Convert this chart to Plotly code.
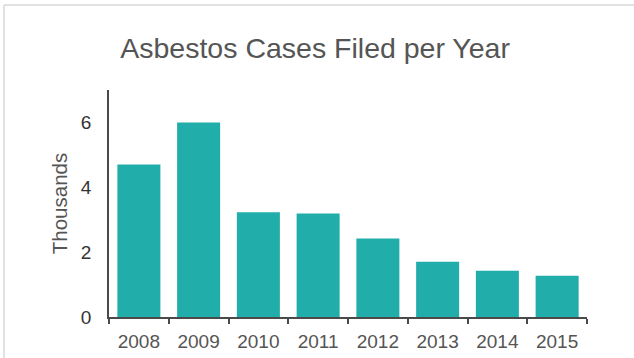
import plotly.graph_objects as go

# Asbestos cases filed each year (thousands)
years = ["2008", "2009", "2010", "2011", "2012", "2013", "2014", "2015"]
cases_thousands = [4.70, 6.00, 3.23, 3.19, 2.42, 1.70, 1.43, 1.27]
y_ticks = [0, 2, 4, 6]

bar_color = "#21AEAB"
axis_color = "#4a4a4a"
text_color = "#555555"
font_family = "Liberation Sans, Arial, Helvetica, sans-serif"

fig = go.Figure(
    go.Bar(
        x=years,
        y=cases_thousands,
        marker=dict(color=bar_color, line=dict(width=0)),
        hoverinfo="x+y",
    )
)

fig.update_layout(
    width=634,
    height=358,
    margin=dict(l=109, r=47, t=90, b=41),
    paper_bgcolor="white",
    plot_bgcolor="white",
    bargap=0.28,
    showlegend=False,
    title=dict(
        text="Asbestos Cases Filed per Year",
        x=0.497,
        xref="container",
        xanchor="center",
        y=1 - 48 / 358,
        yref="container",
        yanchor="middle",
        font=dict(family=font_family, size=28.5, color=text_color),
    ),
    font=dict(family=font_family, color=text_color),
)

fig.update_xaxes(
    type="category",
    automargin=False,
    tickson="boundaries",
    ticks="outside",
    ticklen=5,
    tickwidth=1.5,
    tickcolor=axis_color,
    showline=True,
    linecolor=axis_color,
    linewidth=1.5,
    showgrid=False,
    zeroline=False,
    ticklabelstandoff=6,
    tickfont=dict(family=font_family, size=19, color=text_color),
    range=[-0.5, len(years) - 0.5],
)

fig.update_yaxes(
    automargin=False,
    range=[0, 7],
    tickvals=y_ticks,
    ticktext=[str(v) for v in y_ticks],
    ticks="",
    showline=True,
    linecolor=axis_color,
    linewidth=1.5,
    showgrid=False,
    zeroline=False,
    ticklabelstandoff=12,
    tickfont=dict(family=font_family, size=19, color="#333333"),
    title=dict(
        text="Thousands",
        standoff=8,
        font=dict(family=font_family, size=20.5, color=text_color),
    ),
)

# Light frame around the chart card (top and left edges)
pw = 634 - 109 - 47
ph = 358 - 90 - 41
x0 = (4 - 109) / pw
y_top = 1 + (90 - 5) / ph
fig.add_shape(
    type="line", xref="paper", yref="paper",
    x0=x0, x1=1 + 60 / pw, y0=y_top, y1=y_top,
    line=dict(color="#d9d9d9", width=1.5),
)
fig.add_shape(
    type="line", xref="paper", yref="paper",
    x0=x0, x1=x0, y0=y_top, y1=-60 / ph,
    line=dict(color="#d9d9d9", width=1.5),
)

fig.write_html("out.html")
